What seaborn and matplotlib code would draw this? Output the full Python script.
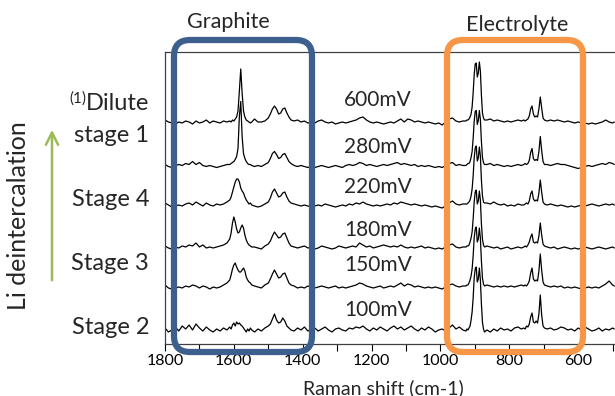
import numpy as np
import matplotlib
matplotlib.use("Agg")
import matplotlib.pyplot as plt
from matplotlib.patches import FancyBboxPatch
import seaborn as sns

# Raman shift sample positions (cm-1), denser around the sharp peaks
shift = [1800, 1790, 1780, 1770, 1760, 1750, 1740, 1730, 1720, 1710, 1700, 1690, 1680, 1670, 1660, 1650, 1640, 1630, 1620,
         1612, 1608, 1604, 1600, 1596, 1592, 1588, 1584, 1580, 1576, 1572, 1568, 1564, 1560, 1556, 1552, 1548,
         1540, 1530, 1520, 1510, 1500,
         1494, 1488, 1482, 1476, 1470, 1464, 1458, 1452, 1446, 1440, 1434,
         1425, 1415, 1405, 1395, 1385, 1375, 1365, 1355, 1345, 1335, 1325, 1315, 1305, 1295, 1285, 1275, 1265, 1255,
         1245, 1235, 1225, 1215, 1205, 1195, 1185, 1175, 1165, 1155, 1145, 1135, 1125, 1115, 1105, 1095, 1085, 1075,
         1065, 1055, 1045, 1035, 1025, 1015, 1005, 995, 985, 975, 965, 955, 945, 935,
         926, 923, 920, 917, 914, 911, 908, 905, 902, 899, 896, 893, 890, 887, 884, 881, 878, 875, 872,
         865, 855, 845, 835, 825, 815, 805, 795, 785, 775, 765,
         758, 754, 750, 746, 742, 738, 734, 730, 726, 722, 718, 714, 710, 706, 702, 698,
         690, 680, 670, 660, 650, 640, 630, 620, 610, 600, 590, 580, 570, 560, 550, 540, 530, 520, 510, 500, 495]

# intensities (a.u.), relative to each trace's baseline
int_600 = [3, 1, 0, -1, 1, 0, 2, 1, -1, 2, 0, 1, 3, 0, 2, 1, 0, 2, 1,
           2, 1, 3, 2, 4, 6, 12, 32, 54, 30, 12, 6, 3, 2, 1, 0, 1,
           4, 1, 1, 2, 5,
           9, 14, 17, 14, 9, 10, 14, 15, 10, 6, 3,
           2, 3, 1, 2, 0, 1, 0, 2, 3, 1, 0, 1, -1, 0, 1, 0, 1, 2,
           3, 5, 6, 3, 1, 0, 1, 0, -1, 0, 1, 0, 2, 4, 1, 4, 3, 1,
           2, 1, 0, 1, 0, -1, 0, -2, 1, 4, 5, 2, 1, 2,
           2, 3, 3, 4, 6, 9, 16, 30, 48, 59, 60, 46, 50, 61, 52, 28, 10, 5, 3,
           3, 4, 2, 3, 2, 1, 2, 1, 2, 3, 2,
           3, 2, 3, 4, 7, 14, 17, 9, 6, 7, 6, 14, 26, 15, 5, 3,
           2, 3, 2, 3, 2, 1, 2, 1, 0, 1, 0, 0, -1, 0, -1, 0, 1, 3, 1, 0, 1]

int_280 = [2, 0, -1, 1, 2, 1, 3, 2, 5, 2, 4, 1, 0, 1, 0, -1, 0, 1, 2,
           2, 3, 4, 5, 7, 10, 18, 50, 65, 30, 13, 8, 5, 3, 2, 2, 1,
           0, 1, 0, 2, 4,
           8, 13, 15, 12, 8, 9, 12, 13, 9, 5, 3,
           1, 0, 1, 0, -1, 0, -1, 0, 1, 0, -1, 0, 1, 0, -1, 1, 2, 1,
           2, 4, 3, 1, 2, 1, 0, 1, 2, 1, 2, 3, 4, 2, 3, 2, 1, 2,
           0, 1, 0, 1, 0, -1, 0, -1, 1, 3, 4, 1, 2, 1,
           1, 2, 3, 3, 5, 9, 15, 28, 45, 55, 56, 42, 46, 56, 47, 25, 9, 4, 2,
           2, 3, 1, 2, 1, 0, 1, 0, 1, 2, 1,
           2, 3, 2, 3, 6, 14, 18, 8, 6, 7, 6, 15, 30, 16, 5, 2,
           2, 1, 2, 3, 2, 2, 1, 0, -1, -2, -1, 0, 1, 0, 1, 2, 3, 2, 4, 3, 2]

int_220 = [3, 1, -1, 0, 1, 0, 2, 3, 1, 4, 2, 0, 3, 1, 0, 2, 1, 2, 4,
           6, 9, 14, 19, 24, 27, 27, 24, 18, 15, 13, 9, 6, 4, 2, 3, 1,
           0, -1, 0, 2, 4,
           8, 14, 17, 13, 9, 10, 13, 14, 9, 5, 3,
           2, 1, 0, 1, 0, -1, 0, 1, 0, 2, 1, 0, -1, 0, 1, 0, 2, 1,
           3, 2, 4, 2, 1, 0, 1, 0, 1, 2, 1, 3, 2, 4, 3, 2, 1, 2,
           1, 0, 1, 0, -1, 0, -1, -2, 0, 3, 5, 2, 1, 2,
           2, 2, 3, 4, 6, 10, 17, 30, 48, 58, 60, 45, 48, 59, 50, 26, 10, 4, 3,
           3, 2, 4, 2, 1, 2, 0, 1, 0, 2, 1,
           1, 2, 3, 2, 5, 12, 15, 7, 5, 6, 5, 13, 26, 14, 4, 2,
           1, 2, 1, 0, 1, 0, -1, 0, -1, 0, 1, 0, 1, 2, 1, 0, 1, 2, 1, 2, 1]

int_180 = [2, 0, -1, 1, 0, 2, 1, 3, 2, 5, 1, 3, 0, 1, 0, 1, 2, 3, 5,
           9, 15, 25, 31, 26, 19, 15, 16, 20, 23, 20, 13, 8, 5, 3, 2, 1,
           1, 0, -1, 2, 4,
           7, 12, 16, 13, 10, 11, 14, 15, 10, 5, 2,
           1, 0, 1, 2, 0, 1, -1, 0, 2, 1, 0, -1, 0, 2, 1, 0, 1, 2,
           1, 5, 3, 1, 2, 0, 1, 2, 3, 2, 1, 2, 1, 3, 1, 0, 1, 0,
           1, 2, 0, 1, 0, -1, 0, -1, 1, 3, 4, 1, 0, 1,
           1, 2, 2, 3, 6, 10, 16, 29, 46, 56, 58, 44, 47, 57, 48, 24, 9, 3, 1,
           2, 1, 0, 1, -1, 0, 1, -1, 0, 1, 0,
           1, 2, 1, 3, 6, 11, 14, 6, 5, 6, 5, 12, 25, 13, 4, 2,
           1, 0, 1, -1, 0, 1, 0, -1, 0, -1, 0, 1, 0, -1, 0, 1, 0, -1, 0, 1, 0]

int_150 = [3, 0, -1, 0, 1, 0, 2, 1, 3, 2, 0, 2, 1, -1, 1, 0, 1, 3, 5,
           8, 13, 19, 23, 25, 21, 18, 16, 16, 18, 20, 17, 11, 8, 6, 5, 3,
           2, 1, 0, 3, 5,
           9, 14, 18, 14, 10, 11, 14, 15, 10, 5, 3,
           2, 0, 1, 0, 2, 1, 0, 1, 2, 1, 0, 1, 2, 0, 1, 0, 1, 2,
           3, 5, 4, 2, 1, 0, 1, 2, 0, 1, 2, 1, 3, 5, 2, 4, 3, 1,
           2, 1, 0, 1, 0, 1, 0, -1, 1, 3, 4, 2, 1, 2,
           2, 3, 3, 5, 8, 12, 19, 32, 50, 59, 61, 46, 49, 60, 50, 27, 10, 4, 2,
           3, 2, 1, 2, 1, 2, 1, 2, 1, 2, 3,
           2, 3, 2, 4, 7, 15, 20, 9, 7, 8, 7, 17, 34, 18, 6, 3,
           2, 1, 2, 1, 2, 0, 1, 0, 1, 0, -1, 0, 1, 0, 1, 0, 2, 4, 7, 3, 2]

int_100 = [2, -2, 0, 3, -1, 4, 1, 5, 0, 6, 2, -1, 3, 0, -2, 1, -1, 2, 0,
           3, 1, 5, 7, 4, 8, 6, 7, 5, 4, 2, 0, -2, 1, -1, 2, 0,
           -2, 1, -1, 2, 4,
           6, 11, 16, 10, 7, 8, 12, 9, 4, 2, 0,
           -1, 2, 0, 3, -1, 1, 2, -1, 1, 3, 0, -2, 1, 2, 0, -1, 2, 1,
           3, 2, 4, 1, -1, 2, 0, 3, 1, -1, 2, 4, 1, 3, 0, 2, 4, 1,
           -1, 2, 0, 3, 1, -2, 0, 1, -1, 2, 5, 1, 3, 0,
           -1, 1, 0, 2, 4, 10, 18, 32, 52, 61, 63, 48, 51, 62, 50, 26, 8, 1, -2,
           0, -2, 1, -1, 2, 0, 1, -1, 2, 3, 1,
           2, 1, 4, 3, 6, 13, 17, 8, 7, 9, 7, 16, 35, 15, 4, 2,
           1, 2, 0, 1, 3, 2, 0, 1, -1, 2, 0, 3, 1, -1, 0, 2, -1, 1, 0, 2, 1]

spectra = [int_100, int_150, int_180, int_220, int_280, int_600]
offsets = [14, 56, 96, 138, 177.5, 221]
potentials = ["100mV", "150mV", "180mV", "220mV", "280mV", "600mV"]
stages = ["Stage 2", "Stage 3", "Stage 4", "stage 1", "Dilute"]

sns.set_style("white")
plt.rcParams["font.family"] = ["Lato", "DejaVu Sans"]

W, H = 615, 396
fig = plt.figure(figsize=(W / 100, H / 100), dpi=100)
ax = fig.add_axes([165 / W, (H - 344) / H, (W - 165) / W, (344 - 52) / H])

for vals, off in zip(spectra, offsets):
    y = np.array(vals, dtype=float) + off
    sns.lineplot(x=shift, y=y, ax=ax, color="black", lw=0.9, estimator=None, sort=False)

ax.set_xlim(1800, 493)
ax.set_ylim(0, 292)
ax.set_xticks([1800, 1600, 1400, 1200, 1000, 800, 600])
ax.set_xticks([1700, 1500, 1300, 1100, 900, 700, 500], minor=True)
ax.set_yticks([])
ax.tick_params(axis="x", which="both", direction="out", length=5, width=0.8,
               bottom=True, labelsize=11.5, pad=2, colors="black")
ax.spines["right"].set_visible(False)
for s in ["left", "bottom", "top"]:
    ax.spines[s].set_color("#404040")
    ax.spines[s].set_linewidth(0.9)
ax.set_xlabel("Raman shift (cm-1)", fontsize=14)
ax.xaxis.set_label_coords((383 - 165) / (W - 165), -(388 - 344) / (344 - 52))
ax.xaxis.label.set_va("center")
ax.set_ylabel("")


def fy(py):
    return (H - py) / H


# potential labels
for lab, py in zip(potentials, [310, 265, 230, 187, 147, 100]):
    fig.text(378 / W, fy(py), lab, fontsize=15, ha="center", va="center")

# stage labels
for lab, py in zip(stages, [327, 263, 199, 135, 103]):
    fig.text(149 / W, fy(py), lab, fontsize=17, ha="right", va="center")
fig.text(86 / W, fy(99), "(1)", fontsize=11, ha="right", va="center")

fig.text(19 / W, fy(216), "Li deintercalation", fontsize=18, rotation=90,
         ha="center", va="center")
ax.annotate("", xy=(52, H - 127), xytext=(52, H - 283), xycoords="figure pixels",
            textcoords="figure pixels",
            arrowprops=dict(arrowstyle="->", color="#9BBB59", lw=1.8, mutation_scale=22))

fig.text(228 / W, fy(22), "Graphite", fontsize=15.5, ha="center", va="center")
fig.text(517 / W, fy(25), "Electrolyte", fontsize=15.5, ha="center", va="center")

# rounded boxes, in inches so corners stay round
for x0, x1, col in [(174, 312, "#3C5F8E"), (447, 583, "#F79646")]:
    box = FancyBboxPatch((x0 / 100, (H - 352) / 100), (x1 - x0) / 100, (352 - 40) / 100,
                         boxstyle="round,pad=0,rounding_size=0.16",
                         transform=fig.dpi_scale_trans, fill=False,
                         edgecolor=col, lw=4.5, clip_on=False)
    fig.patches.append(box)

fig.savefig("out.png", dpi=100)
